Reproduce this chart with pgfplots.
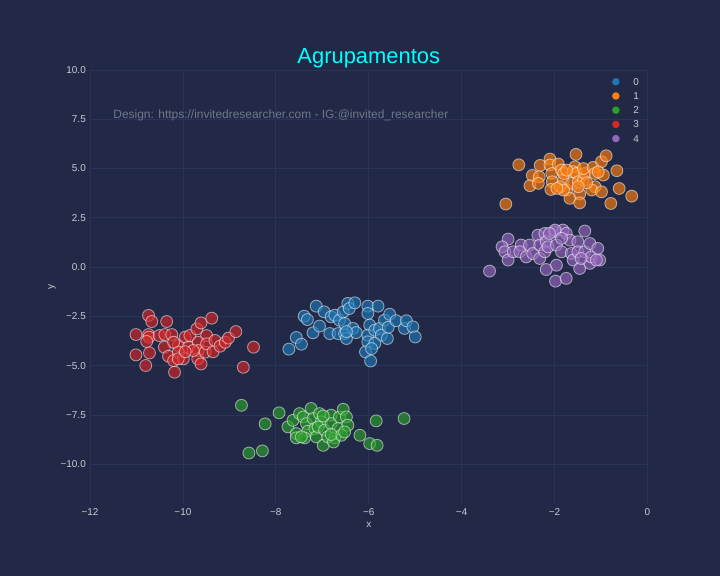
\documentclass[border=0pt]{standalone}
\usepackage{fontspec}
\setmainfont{Liberation Sans}
\usepackage{pgfplots}
\pgfplotsset{compat=1.18}
\definecolor{bg}{HTML}{212946}
\definecolor{gridc}{HTML}{2A3459}
\definecolor{tickc}{HTML}{C8CBD4}
\definecolor{annc}{HTML}{70778F}
\definecolor{titlec}{HTML}{00FFFF}
\definecolor{c0}{HTML}{1F77B4}
\definecolor{c1}{HTML}{FF7F0E}
\definecolor{c2}{HTML}{2CA02C}
\definecolor{c3}{HTML}{D62728}
\definecolor{c4}{HTML}{9467BD}
\pgfplotsset{clus/.style={only marks, mark=*, mark size=6pt, forget plot,
  mark options={fill=#1, fill opacity=0.65, draw=white, draw opacity=0.5, line width=0.9bp}}}
\pgfplotsset{legimg/.style={only marks, mark=*, mark size=3.5bp, color=#1,
  legend image code/.code={\draw[##1] plot coordinates {(0bp,0bp)};}}}
\begin{document}
\begin{tikzpicture}
\fill[bg] (0,0) rectangle (720bp,576bp);
\begin{axis}[
  at={(90bp,72.3bp)}, anchor=south west,
  scale only axis, width=557.5bp, height=433.7bp,
  xmin=-12, xmax=0, ymin=-12, ymax=10,
  xtick={-12,-10,...,0}, xticklabels={−12,−10,−8,−6,−4,−2,0},
  ytick={-10,-7.5,...,10}, yticklabels={−10.0,−7.5,−5.0,−2.5,0.0,2.5,5.0,7.5,10.0},
  axis line style={draw=none}, major tick length=0pt,
  grid=major, grid style={gridc, line width=0.8bp},
  tick label style={font=\fontsize{10}{12}\selectfont, text=tickc, inner sep=0pt},
  yticklabel style={anchor=east, xshift=-4bp},
  xticklabel style={anchor=north, yshift=-4.3bp},
  xlabel={x}, ylabel={y},
  label style={font=\fontsize{10}{12}\selectfont, text=tickc, inner sep=0pt},
  xlabel style={at={(axis description cs:0.5,0)}, anchor=center, yshift=-21bp},
  ylabel style={at={(axis description cs:-0.0682,0.5)}, anchor=center},
  title={Agrupamentos},
  title style={font=\fontsize{22}{26}\selectfont, text=titlec, at={(axis description cs:0.5,1)}, anchor=base, yshift=1bp, inner sep=0pt},
  legend style={at={(axis description cs:1,1)}, anchor=north east, xshift=-5.4bp, yshift=-6bp,
    draw=none, fill=none, font=\fontsize{10}{12}\selectfont, text=tickc,
    nodes={inner sep=0pt, text height=7.2bp, text depth=0bp}, row sep=7bp,
    /tikz/every odd column/.append style={column sep=14bp}},
  legend cell align=left,
]
\node[anchor=west, text=annc, font=\fontsize{12}{14}\selectfont, inner sep=0pt] at (axis cs:-11.5,7.72) {Design: https://invitedresearcher.com - IG:@invited\_researcher};

% cluster 0 (blue)
\addplot[clus=c0] coordinates {
(-7.72,-4.16) (-7.56,-3.57) (-7.45,-3.91) (-7.39,-2.49) (-7.32,-2.66) (-7.20,-3.33)
(-7.13,-1.98) (-7.06,-2.99) (-6.96,-2.27) (-6.84,-3.37) (-6.81,-2.52) (-6.73,-2.44)
(-6.66,-3.37) (-6.63,-2.69) (-6.52,-3.37) (-6.52,-2.86) (-6.48,-3.62) (-6.55,-2.27)
(-6.45,-1.84) (-6.42,-2.10) (-6.30,-1.81) (-6.34,-3.11) (-6.27,-3.32) (-6.48,-3.27)
(-6.02,-1.98) (-6.02,-2.35) (-5.98,-2.94) (-6.02,-3.45) (-6.02,-3.79) (-6.07,-4.30)
(-5.96,-4.76) (-5.80,-1.98) (-5.87,-3.20) (-5.77,-3.11) (-5.73,-3.45) (-5.66,-2.69)
(-5.60,-3.62) (-5.55,-2.39) (-5.58,-3.05) (-5.41,-2.72) (-5.23,-3.11) (-5.19,-2.72)
(-5.05,-3.03) (-5.00,-3.54) (-5.87,-3.87) (-5.94,-4.13)
};
% cluster 1 (orange)
\addplot[clus=c1] coordinates {
(-2.77,5.19) (-3.05,3.20) (-2.48,4.65) (-2.53,4.13) (-2.31,5.16) (-2.33,4.58)
(-2.35,4.25) (-2.10,5.48) (-2.10,5.18) (-2.06,4.75) (-2.05,4.33) (-2.08,3.94)
(-1.92,5.23) (-1.85,4.92) (-1.81,4.42) (-1.80,4.75) (-1.74,3.91) (-1.67,3.49)
(-1.88,4.08) (-1.54,5.72) (-1.56,5.09) (-1.60,4.84) (-1.53,4.75) (-1.63,4.25)
(-1.49,4.33) (-1.46,3.71) (-1.46,3.26) (-1.38,4.42) (-1.35,4.75) (-1.38,5.00)
(-1.17,5.06) (-1.13,4.75) (-1.13,4.08) (-1.20,3.91) (-0.95,4.67) (-0.99,5.35)
(-0.89,5.65) (-0.99,3.82) (-0.79,3.23) (-0.66,4.89) (-0.61,3.99) (-0.34,3.60)
(-1.06,4.83) (-1.81,3.91) (-1.95,3.99) (-1.31,4.28) (-1.74,4.92) (-1.49,4.08)
};
% cluster 2 (green)
\addplot[clus=c2] coordinates {
(-8.74,-7.01) (-8.58,-9.43) (-8.29,-9.32) (-8.23,-7.95) (-7.93,-7.39) (-7.74,-8.10)
(-7.63,-7.77) (-7.49,-7.43) (-7.56,-8.44) (-7.56,-8.66) (-7.41,-7.60) (-7.34,-7.94)
(-7.31,-8.32) (-7.38,-8.66) (-7.24,-7.17) (-7.20,-7.68) (-7.16,-8.19) (-7.13,-8.61)
(-7.06,-7.43) (-7.02,-7.85) (-6.98,-9.04) (-7.09,-8.11) (-6.95,-8.27) (-6.88,-8.61)
(-6.81,-7.51) (-6.81,-7.94) (-6.73,-8.66) (-6.76,-8.87) (-6.66,-8.19) (-6.63,-7.60)
(-6.55,-7.21) (-6.59,-8.53) (-6.48,-7.60) (-6.45,-8.02) (-6.52,-8.36) (-6.19,-8.53)
(-5.98,-8.95) (-5.82,-9.04) (-5.84,-7.80) (-5.24,-7.68) (-6.98,-7.55) (-7.45,-8.61)
(-6.81,-8.49)
};
% cluster 3 (red)
\addplot[clus=c3] coordinates {
(-10.74,-2.45) (-10.67,-2.76) (-11.01,-3.42) (-10.74,-3.42) (-10.73,-3.55) (-10.78,-3.77)
(-11.01,-4.45) (-10.72,-4.35) (-10.80,-4.99) (-10.51,-3.47) (-10.39,-3.42) (-10.35,-2.76)
(-10.24,-3.42) (-10.40,-4.06) (-10.31,-4.52) (-10.18,-5.33) (-10.20,-4.74) (-10.10,-3.98)
(-10.10,-4.31) (-9.99,-4.65) (-9.95,-3.55) (-9.88,-4.06) (-9.85,-3.47) (-9.70,-3.13)
(-9.61,-2.83) (-9.38,-2.59) (-9.49,-3.47) (-9.67,-3.81) (-9.67,-4.23) (-9.68,-4.65)
(-9.61,-4.91) (-9.52,-4.31) (-9.49,-3.89) (-9.35,-4.29) (-9.31,-3.72) (-9.20,-4.01)
(-9.09,-3.81) (-9.02,-3.60) (-8.86,-3.27) (-8.48,-4.06) (-8.70,-5.08) (-10.10,-4.65)
(-10.20,-3.81) (-9.78,-4.23) (-9.95,-4.29)
};
% cluster 4 (purple)
\addplot[clus=c4] coordinates {
(-3.40,-0.20) (-3.00,1.42) (-3.13,1.03) (-3.07,0.78) (-3.00,0.36) (-2.89,0.78)
(-2.72,1.12) (-2.75,0.78) (-2.61,0.52) (-2.54,1.12) (-2.47,0.69) (-2.36,1.62)
(-2.32,1.12) (-2.32,0.44) (-2.21,1.71) (-2.18,1.29) (-2.21,0.78) (-2.14,1.03)
(-2.00,1.79) (-1.96,1.12) (-1.96,0.10) (-2.18,-0.12) (-1.98,-0.71) (-1.75,-0.57)
(-1.82,1.88) (-1.75,1.71) (-1.85,0.78) (-1.67,1.37) (-1.64,0.69) (-1.60,0.36)
(-1.50,1.29) (-1.50,0.78) (-1.46,-0.07) (-1.35,1.83) (-1.35,0.78) (-1.24,1.20)
(-1.24,0.19) (-1.21,0.52) (-1.07,0.95) (-1.03,0.36) (-1.10,0.36) (-1.99,1.88)
(-1.43,0.44) (-1.85,1.46) (-2.11,1.71)
};
\addlegendimage{legimg=c0}\addlegendentry{0}
\addlegendimage{legimg=c1}\addlegendentry{1}
\addlegendimage{legimg=c2}\addlegendentry{2}
\addlegendimage{legimg=c3}\addlegendentry{3}
\addlegendimage{legimg=c4}\addlegendentry{4}
\end{axis}
\end{tikzpicture}
\end{document}
